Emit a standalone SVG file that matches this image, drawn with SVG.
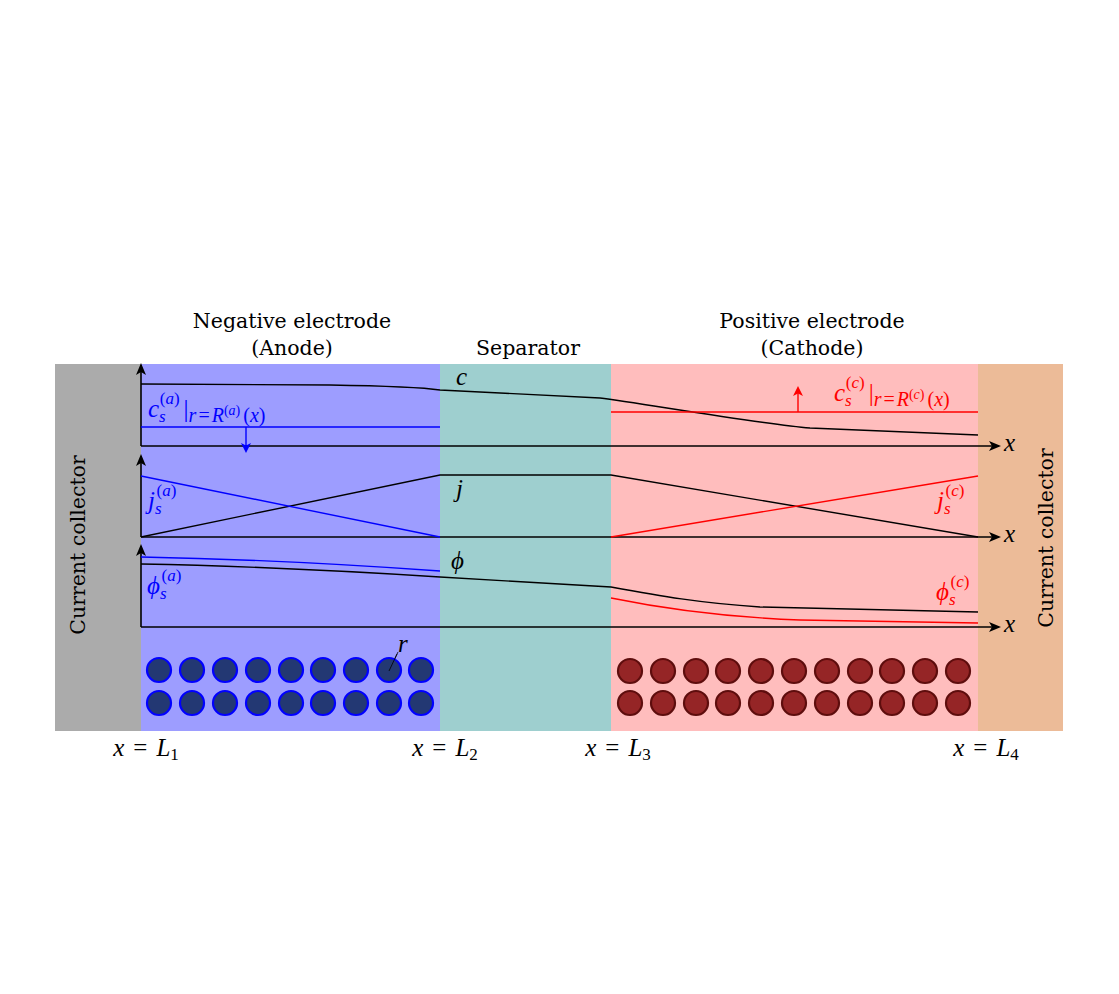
<svg xmlns="http://www.w3.org/2000/svg" width="1119" height="994" viewBox="0 0 1119 994">
<style>
.t{font-family:"DejaVu Serif","Liberation Serif",serif;font-size:20.5px;fill:#000}
.m{font-family:"Liberation Serif","DejaVu Serif",serif;font-style:italic;font-size:25px}
.s{font-size:17px}
.q{font-size:20px}
.u{font-style:normal}
.ax{stroke:#000;stroke-width:1.6;fill:none}
.bk{stroke:#000;stroke-width:1.4;fill:none}
.bl{stroke:#0000ff;stroke-width:1.4;fill:none}
.rd{stroke:#ff0000;stroke-width:1.4;fill:none}
.pa{fill:#233873;stroke:#0000ff;stroke-width:2.2}
.pc{fill:#952526;stroke:#5e0d0d;stroke-width:2.2}
</style>
<defs>
<marker id="ak" markerWidth="12" markerHeight="10" refX="10" refY="5" orient="auto" markerUnits="userSpaceOnUse"><path d="M0,0 L12,5 L0,10 L3,5 Z" fill="#000"/></marker>
<marker id="ab" markerWidth="10" markerHeight="10" refX="8" refY="5" orient="auto" markerUnits="userSpaceOnUse"><path d="M0,0 L10,5 L0,10 L2.5,5 Z" fill="#0000ff"/></marker>
<marker id="ar" markerWidth="10" markerHeight="10" refX="8" refY="5" orient="auto" markerUnits="userSpaceOnUse"><path d="M0,0 L10,5 L0,10 L2.5,5 Z" fill="#ff0000"/></marker>
</defs>
<g id="regions">
<rect id="cc-left" x="55" y="364" width="86" height="367" fill="#ababab"/>
<rect id="anode" x="141" y="364" width="299" height="367" fill="#9d9dff"/>
<rect id="separator" x="440" y="364" width="171" height="367" fill="#9ecfcf"/>
<rect id="cathode" x="611" y="364" width="367" height="367" fill="#ffbdbd"/>
<rect id="cc-right" x="978" y="364" width="85" height="367" fill="#ecbb98"/>
</g>
<g id="headers">
<text class="t" x="292" y="328" text-anchor="middle">Negative electrode</text>
<text class="t" x="292" y="355" text-anchor="middle">(Anode)</text>
<text class="t" x="528" y="355" text-anchor="middle">Separator</text>
<text class="t" x="812" y="328" text-anchor="middle">Positive electrode</text>
<text class="t" x="812" y="355" text-anchor="middle">(Cathode)</text>
<text class="t" transform="translate(85,545) rotate(-90)" text-anchor="middle">Current collector</text>
<text class="t" transform="translate(1053,538) rotate(-90)" text-anchor="middle">Current collector</text>
</g>
<g id="connectors">
<path class="ax" d="M141,446 V365" marker-end="url(#ak)"/>
<path class="ax" d="M141,446 H999" marker-end="url(#ak)"/>
<path class="ax" d="M141,537 V456" marker-end="url(#ak)"/>
<path class="ax" d="M141,537 H999" marker-end="url(#ak)"/>
<path class="ax" d="M141,627 V546" marker-end="url(#ak)"/>
<path class="ax" d="M141,627 H999" marker-end="url(#ak)"/>
<path class="bk" d="M141,384 L330,385 C390,386 420,387 440,390 L600,398 C640,403 760,424 810,428 L978,435"/>
<path class="bl" d="M141,427 H440"/>
<path class="bl" d="M246,427 V451" marker-end="url(#ab)"/>
<path class="rd" d="M611,412 H978"/>
<path class="rd" d="M798,412 V388" marker-end="url(#ar)"/>
<path class="bk" d="M141,537 L440,475 L611,475 L978,537"/>
<path class="bl" d="M141,476 L440,537"/>
<path class="rd" d="M611,537 L978,476"/>
<path class="bl" d="M141,557 C250,559 330,563 440,571"/>
<path class="bk" d="M141,564 C250,566 330,570 440,577 L611,587 C660,596 700,603 760,607 L978,612"/>
<path class="rd" d="M611,598 C660,608 720,617 800,620 L978,623"/>
<path d="M389,671 L398,652" stroke="#000" stroke-width="0.8" fill="none"/>
</g>
<g id="labels">
<text class="m" x="148" y="417" fill="#0000ff">c<tspan class="s" dy="5">s</tspan><tspan class="s u" dx="-6" dy="-18">(</tspan><tspan class="s">a</tspan><tspan class="s u">)</tspan><tspan class="u" dx="4" dy="13">|</tspan><tspan class="q" dy="5">r</tspan><tspan class="q u" dx="2">=</tspan><tspan class="q" dx="2">R</tspan><tspan font-size="14" class="u" dy="-7">(</tspan><tspan font-size="14">a</tspan><tspan font-size="14" class="u">)</tspan><tspan class="q u" dx="3" dy="7">(</tspan><tspan class="q">x</tspan><tspan class="q u">)</tspan></text>
<text class="m" x="456" y="385">c</text>
<text class="m" x="834" y="401" fill="#ff0000">c<tspan class="s" dy="5">s</tspan><tspan class="s u" dx="-6" dy="-18">(</tspan><tspan class="s">c</tspan><tspan class="s u">)</tspan><tspan class="u" dx="4" dy="13">|</tspan><tspan class="q" dy="5">r</tspan><tspan class="q u" dx="2">=</tspan><tspan class="q" dx="2">R</tspan><tspan font-size="14" class="u" dy="-7">(</tspan><tspan font-size="14">c</tspan><tspan font-size="14" class="u">)</tspan><tspan class="q u" dx="3" dy="7">(</tspan><tspan class="q">x</tspan><tspan class="q u">)</tspan></text>
<text class="m" x="1004" y="451">x</text>
<text class="m" x="148" y="509" fill="#0000ff">j<tspan class="s" dy="5">s</tspan><tspan class="s u" dx="-5" dy="-18">(</tspan><tspan class="s">a</tspan><tspan class="s u">)</tspan></text>
<text class="m" x="456" y="497">j</text>
<text class="m" x="937" y="509" fill="#ff0000">j<tspan class="s" dy="5">s</tspan><tspan class="s u" dx="-5" dy="-18">(</tspan><tspan class="s">c</tspan><tspan class="s u">)</tspan></text>
<text class="m" x="1004" y="542">x</text>
<text class="m" x="147" y="594" fill="#0000ff">ϕ<tspan class="s" dy="5">s</tspan><tspan class="s u" dx="-5" dy="-18">(</tspan><tspan class="s">a</tspan><tspan class="s u">)</tspan></text>
<text class="m" x="451" y="569">ϕ</text>
<text class="m" x="936" y="600" fill="#ff0000">ϕ<tspan class="s" dy="5">s</tspan><tspan class="s u" dx="-5" dy="-18">(</tspan><tspan class="s">c</tspan><tspan class="s u">)</tspan></text>
<text class="m" x="1004" y="632">x</text>
<text class="m" x="398" y="652">r</text>
<text class="m" x="146" y="756" text-anchor="middle">x<tspan class="u" dx="9">=</tspan><tspan dx="9">L</tspan><tspan class="s u" dy="4">1</tspan></text>
<text class="m" x="445" y="756" text-anchor="middle">x<tspan class="u" dx="9">=</tspan><tspan dx="9">L</tspan><tspan class="s u" dy="4">2</tspan></text>
<text class="m" x="618" y="756" text-anchor="middle">x<tspan class="u" dx="9">=</tspan><tspan dx="9">L</tspan><tspan class="s u" dy="4">3</tspan></text>
<text class="m" x="986" y="756" text-anchor="middle">x<tspan class="u" dx="9">=</tspan><tspan dx="9">L</tspan><tspan class="s u" dy="4">4</tspan></text>
</g>
<g id="anode-particles">
<circle class="pa" cx="159" cy="670" r="12"/><circle class="pa" cx="192" cy="670" r="12"/><circle class="pa" cx="225" cy="670" r="12"/><circle class="pa" cx="258" cy="670" r="12"/><circle class="pa" cx="291" cy="670" r="12"/><circle class="pa" cx="323" cy="670" r="12"/><circle class="pa" cx="356" cy="670" r="12"/><circle class="pa" cx="389" cy="670" r="12"/><circle class="pa" cx="421" cy="670" r="12"/>
<circle class="pa" cx="159" cy="703" r="12"/><circle class="pa" cx="192" cy="703" r="12"/><circle class="pa" cx="225" cy="703" r="12"/><circle class="pa" cx="258" cy="703" r="12"/><circle class="pa" cx="291" cy="703" r="12"/><circle class="pa" cx="323" cy="703" r="12"/><circle class="pa" cx="356" cy="703" r="12"/><circle class="pa" cx="389" cy="703" r="12"/><circle class="pa" cx="421" cy="703" r="12"/>
<path d="M389,671 L397,654" stroke="#000" stroke-width="0.8" fill="none"/>
</g>
<g id="cathode-particles">
<circle class="pc" cx="630" cy="671" r="12"/><circle class="pc" cx="663" cy="671" r="12"/><circle class="pc" cx="696" cy="671" r="12"/><circle class="pc" cx="728" cy="671" r="12"/><circle class="pc" cx="761" cy="671" r="12"/><circle class="pc" cx="794" cy="671" r="12"/><circle class="pc" cx="827" cy="671" r="12"/><circle class="pc" cx="860" cy="671" r="12"/><circle class="pc" cx="892" cy="671" r="12"/><circle class="pc" cx="925" cy="671" r="12"/><circle class="pc" cx="958" cy="671" r="12"/>
<circle class="pc" cx="630" cy="703" r="12"/><circle class="pc" cx="663" cy="703" r="12"/><circle class="pc" cx="696" cy="703" r="12"/><circle class="pc" cx="728" cy="703" r="12"/><circle class="pc" cx="761" cy="703" r="12"/><circle class="pc" cx="794" cy="703" r="12"/><circle class="pc" cx="827" cy="703" r="12"/><circle class="pc" cx="860" cy="703" r="12"/><circle class="pc" cx="892" cy="703" r="12"/><circle class="pc" cx="925" cy="703" r="12"/><circle class="pc" cx="958" cy="703" r="12"/>
</g>
</svg>
